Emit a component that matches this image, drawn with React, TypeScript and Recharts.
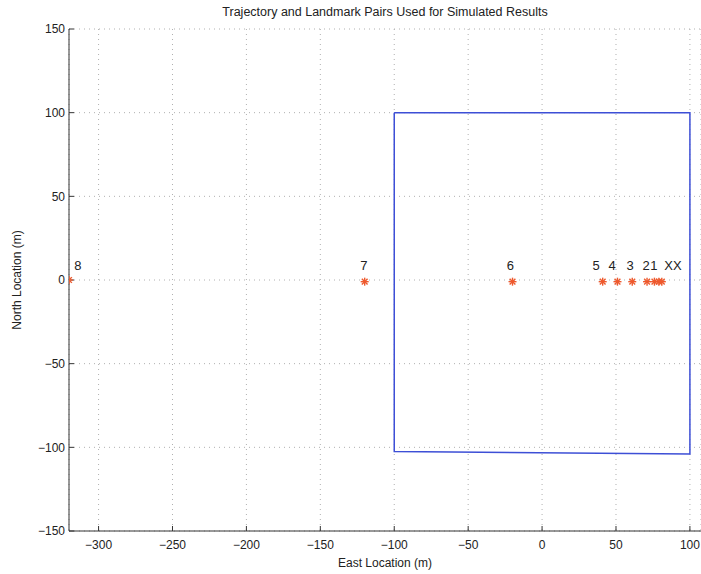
import React from 'react';
import { ScatterChart, Scatter, XAxis, YAxis, CartesianGrid } from 'recharts';

const xTicks = [-300, -250, -200, -150, -100, -50, 0, 50, 100];
const yTicks = [-150, -100, -50, 0, 50, 100, 150];

const trajectory = [
  { x: -100, y: 100 },
  { x: 100, y: 100 },
  { x: 100, y: -104 },
  { x: -100, y: -102.5 },
  { x: -100, y: 100 },
];

const landmarkX = [-320, -120, -20, 41, 51, 61, 71, 76, 79, 81];
const landmarkY = [0, -1, -1, -1, -1, -1, -1, -1, -1, -1];
const landmarks = landmarkX.map((x, i) => ({ x, y: landmarkY[i] }));

const labelNames = ['8', '7', '6', '5', '4', '3', '2', '1', 'XX'];
const labelX = [-314, -120.5, -21.5, 36.5, 47.3, 59.5, 70.3, 75.7, 88.5];
const labelY = [8, 8, 8, 8, 8, 8, 8, 8, 8];
const labels = labelNames.map((label, i) => ({ x: labelX[i], y: labelY[i], label }));

const fmt = (v: number) => String(v).replace('-', '\u2212');

const Star = (props: any) => {
  const { cx, cy } = props;
  const r = 4;
  const d = r * 0.72;
  const c = '#ee5a2e';
  return (
    <g stroke={c} strokeWidth={1.4}>
      <line x1={cx - r} y1={cy} x2={cx + r} y2={cy} />
      <line x1={cx} y1={cy - r} x2={cx} y2={cy + r} />
      <line x1={cx - d} y1={cy - d} x2={cx + d} y2={cy + d} />
      <line x1={cx - d} y1={cy + d} x2={cx + d} y2={cy - d} />
    </g>
  );
};

const LabelShape = (props: any) => {
  const { cx, cy, payload } = props;
  return (
    <text x={cx} y={cy} textAnchor="middle" dominantBaseline="middle" fontSize={13} fill="#222">
      {payload.label}
    </text>
  );
};

const font = 'Liberation Sans, Arial, Helvetica, sans-serif';

export default function App() {
  return (
    <div style={{ position: 'absolute', left: 0, top: 0, width: 701, height: 574, overflow: 'hidden', background: '#fff', fontFamily: font }}>
      <ScatterChart width={701} height={574} margin={{ top: 29, right: 0, left: 0, bottom: 0 }}>
        <CartesianGrid stroke="#b0b0b0" strokeDasharray="1 4" />
        <XAxis
          type="number"
          dataKey="x"
          domain={[-320, 107.5]}
          ticks={xTicks}
          allowDataOverflow
          height={43}
          tickSize={-5}
          tickMargin={14}
          tickFormatter={fmt}
          stroke="#333"
          tick={{ fill: '#222', fontSize: 12, fontFamily: font }}
          label={{ value: 'East Location (m)', position: 'insideBottom', offset: 7, fill: '#222', fontSize: 12, fontFamily: font }}
        />
        <YAxis
          type="number"
          dataKey="y"
          domain={[-150, 150]}
          ticks={yTicks}
          allowDataOverflow
          width={69}
          tickSize={-5}
          tickMargin={9}
          tickFormatter={fmt}
          stroke="#333"
          tick={{ fill: '#222', fontSize: 12, fontFamily: font }}
          label={{ value: 'North Location (m)', angle: -90, position: 'insideLeft', offset: 17, fill: '#222', fontSize: 12, fontFamily: font, style: { textAnchor: 'middle' } }}
        />
        <Scatter data={trajectory} line={{ stroke: '#3d4fd6', strokeWidth: 1.5 }} shape={() => null} isAnimationActive={false} />
        <Scatter data={landmarks} shape={<Star />} isAnimationActive={false} />
        <Scatter data={labels} shape={<LabelShape />} isAnimationActive={false} />
        <text x={385} y={13} textAnchor="middle" dominantBaseline="middle" fontSize={12.5} fill="#222" fontFamily={font}>
          Trajectory and Landmark Pairs Used for Simulated Results
        </text>
      </ScatterChart>
    </div>
  );
}
